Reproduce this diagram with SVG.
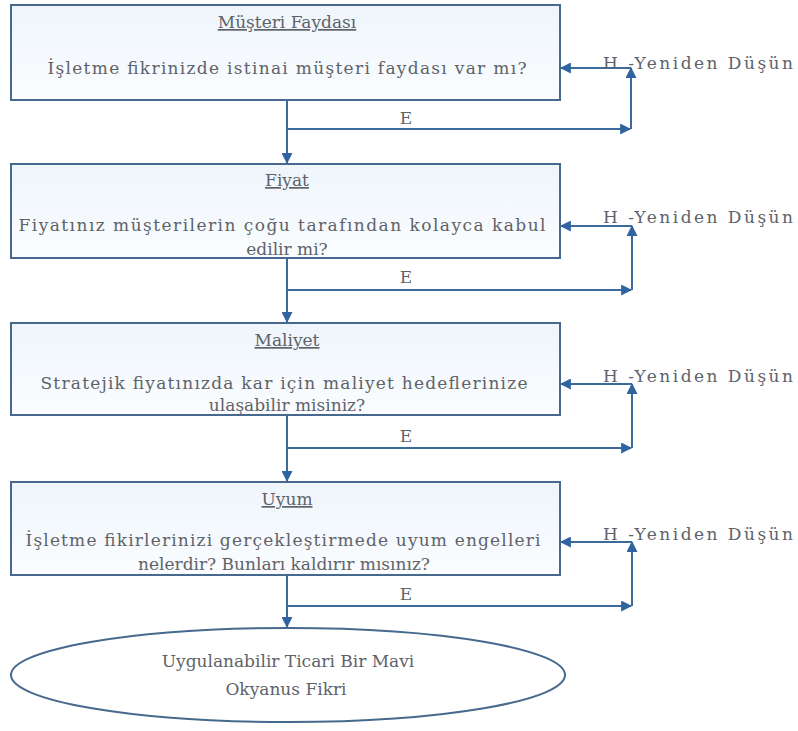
<svg xmlns="http://www.w3.org/2000/svg" width="798" height="731" viewBox="0 0 798 731" font-family="DejaVu Serif, Liberation Serif, serif">
  <defs>
    <linearGradient id="boxFill" x1="0" y1="0" x2="0" y2="1">
      <stop offset="0" stop-color="#eef5fb"/>
      <stop offset="1" stop-color="#fbfdff"/>
    </linearGradient>
    <marker id="arrow" viewBox="0 0 10 10" refX="9" refY="5" markerWidth="13" markerHeight="11" markerUnits="userSpaceOnUse" orient="auto">
      <path d="M0,0 L10,5 L0,10 z" fill="#2f64a0"/>
    </marker>
    <style>
      .box { fill: url(#boxFill); stroke: #46698d; stroke-width: 2; }
      .ell { fill: #ffffff; stroke: #46698d; stroke-width: 2; }
      .t { font-family: 'DejaVu Serif', 'Liberation Serif', serif; font-size: 17px; fill: #5e636a; }
      .c { text-anchor: middle; }
      .u { text-decoration: underline; }
      .link { fill: none; stroke: #3b6a9c; stroke-width: 2; }
    </style>
  </defs>
  <rect width="798" height="731" fill="#ffffff"/>

  <g id="connectors">
    <!-- main flow -->
    <path class="link" d="M287,101 V163" marker-end="url(#arrow)"/>
    <path class="link" d="M287,259 V322" marker-end="url(#arrow)"/>
    <path class="link" d="M287,416 V481" marker-end="url(#arrow)"/>
    <path class="link" d="M287,576 V627" marker-end="url(#arrow)"/>
    <!-- E branches -->
    <path class="link" d="M287,129 H630" marker-end="url(#arrow)"/>
    <path class="link" d="M287,290 H631" marker-end="url(#arrow)"/>
    <path class="link" d="M287,448 H631" marker-end="url(#arrow)"/>
    <path class="link" d="M287,606 H631" marker-end="url(#arrow)"/>
    <!-- loop back up -->
    <path class="link" d="M631,129 V68" marker-end="url(#arrow)"/>
    <path class="link" d="M632,290 V226" marker-end="url(#arrow)"/>
    <path class="link" d="M632,448 V384" marker-end="url(#arrow)"/>
    <path class="link" d="M632,606 V542" marker-end="url(#arrow)"/>
    <!-- H branches back into box -->
    <path class="link" d="M631,68 H561" marker-end="url(#arrow)"/>
    <path class="link" d="M632,226 H561" marker-end="url(#arrow)"/>
    <path class="link" d="M632,384 H561" marker-end="url(#arrow)"/>
    <path class="link" d="M632,542 H561" marker-end="url(#arrow)"/>
    <!-- labels -->
    <text class="t c" x="406" y="124">E</text>
    <text class="t c" x="406" y="283">E</text>
    <text class="t c" x="406" y="442">E</text>
    <text class="t c" x="406" y="600">E</text>
    <text class="t" x="603" y="69" textLength="190" lengthAdjust="spacing">H -Yeniden Düşün</text>
    <text class="t" x="603" y="223" textLength="190" lengthAdjust="spacing">H -Yeniden Düşün</text>
    <text class="t" x="603" y="382" textLength="190" lengthAdjust="spacing">H -Yeniden Düşün</text>
    <text class="t" x="603" y="540" textLength="190" lengthAdjust="spacing">H -Yeniden Düşün</text>
  </g>

  <g id="musteri">
    <rect class="box" x="11" y="5" width="549" height="95"/>
    <text class="t c u" x="287" y="28">Müşteri Faydası</text>
    <text class="t c" x="287" y="74" textLength="479" lengthAdjust="spacing">İşletme fikrinizde istinai müşteri faydası var mı?</text>
  </g>

  <g id="fiyat">
    <rect class="box" x="11" y="164" width="549" height="94"/>
    <text class="t c u" x="287" y="186">Fiyat</text>
    <text class="t c" x="282" y="231" textLength="527" lengthAdjust="spacing">Fiyatınız müşterilerin çoğu tarafından kolayca kabul</text>
    <text class="t c" x="287" y="255">edilir mi?</text>
  </g>

  <g id="maliyet">
    <rect class="box" x="11" y="323" width="549" height="92"/>
    <text class="t c u" x="287" y="346">Maliyet</text>
    <text class="t c" x="284" y="389" textLength="487" lengthAdjust="spacing">Stratejik fiyatınızda kar için maliyet hedeflerinize</text>
    <text class="t c" x="287" y="411">ulaşabilir misiniz?</text>
  </g>

  <g id="uyum">
    <rect class="box" x="11" y="482" width="549" height="93"/>
    <text class="t c u" x="287" y="505">Uyum</text>
    <text class="t c" x="283" y="546" textLength="515" lengthAdjust="spacing">İşletme fikirlerinizi gerçekleştirmede uyum engelleri</text>
    <text class="t c" x="284" y="570">nelerdir? Bunları kaldırır mısınız?</text>
  </g>

  <g id="sonuc">
    <ellipse class="ell" cx="288" cy="675" rx="277" ry="47"/>
    <text class="t c" x="288" y="667">Uygulanabilir Ticari Bir Mavi</text>
    <text class="t c" x="286" y="695">Okyanus Fikri</text>
  </g>
</svg>
